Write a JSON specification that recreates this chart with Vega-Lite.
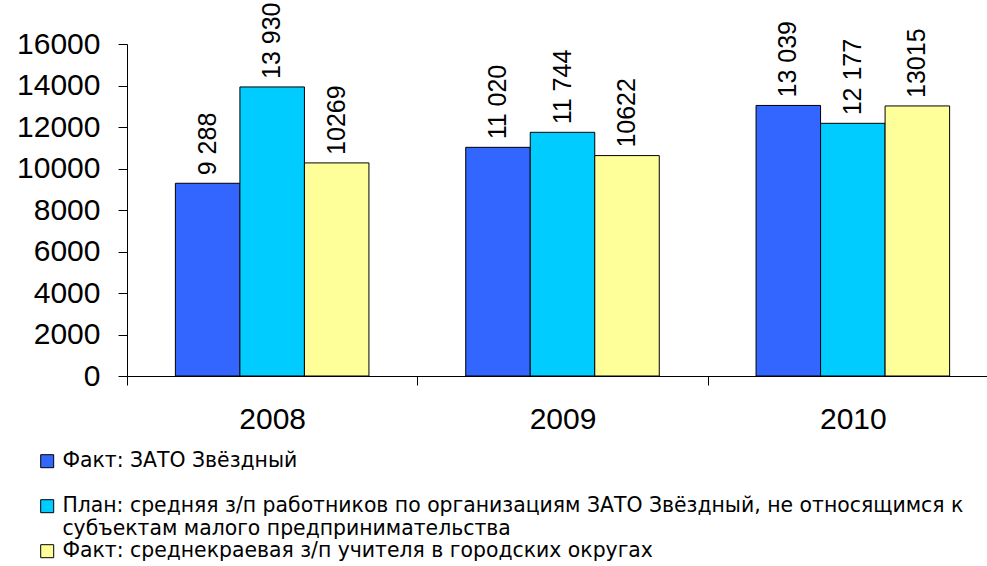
{
  "$schema": "https://vega.github.io/schema/vega-lite/v6.json",
  "width": 860,
  "height": 332,
  "autosize": {"type": "none"},
  "padding": {"left": 127, "top": 44, "right": 0, "bottom": 190},
  "background": "white",
  "data": {
    "values": [
      {"year": "2008", "series": "Факт: ЗАТО Звёздный", "value": 9288, "label": "9 288"},
      {"year": "2008", "series": "План: средняя з/п работников по организациям ЗАТО Звёздный, не относящимся к субъектам малого предпринимательства", "value": 13930, "label": "13 930"},
      {"year": "2008", "series": "Факт: среднекраевая з/п учителя в городских округах", "value": 10269, "label": "10269"},
      {"year": "2009", "series": "Факт: ЗАТО Звёздный", "value": 11020, "label": "11 020"},
      {"year": "2009", "series": "План: средняя з/п работников по организациям ЗАТО Звёздный, не относящимся к субъектам малого предпринимательства", "value": 11744, "label": "11 744"},
      {"year": "2009", "series": "Факт: среднекраевая з/п учителя в городских округах", "value": 10622, "label": "10622"},
      {"year": "2010", "series": "Факт: ЗАТО Звёздный", "value": 13039, "label": "13 039"},
      {"year": "2010", "series": "План: средняя з/п работников по организациям ЗАТО Звёздный, не относящимся к субъектам малого предпринимательства", "value": 12177, "label": "12 177"},
      {"year": "2010", "series": "Факт: среднекраевая з/п учителя в городских округах", "value": 13015, "label": "13015"}
    ]
  },
  "encoding": {
    "x": {
      "field": "year",
      "type": "nominal",
      "scale": {"range": [0, 871], "paddingInner": 0, "paddingOuter": 0},
      "axis": {
        "title": null,
        "labelAngle": 0,
        "labelFont": "Liberation Sans",
        "labelFontSize": 30,
        "labelColor": "#000",
        "labelPadding": 19,
        "tickBand": "extent",
        "tickSize": 9,
        "tickColor": "#000",
        "domainColor": "#000",
        "grid": false
      }
    },
    "xOffset": {
      "field": "series",
      "type": "nominal",
      "scale": {
        "domain": [
          "Факт: ЗАТО Звёздный",
          "План: средняя з/п работников по организациям ЗАТО Звёздный, не относящимся к субъектам малого предпринимательства",
          "Факт: среднекраевая з/п учителя в городских округах"
        ],
        "paddingInner": 0,
        "paddingOuter": 0.75
      }
    },
    "y": {
      "field": "value",
      "type": "quantitative",
      "scale": {"domain": [0, 16000], "nice": false},
      "axis": {
        "title": null,
        "values": [0, 2000, 4000, 6000, 8000, 10000, 12000, 14000, 16000],
        "format": "d",
        "labelFont": "Liberation Sans",
        "labelFontSize": 30,
        "labelColor": "#000",
        "labelPadding": 18,
        "tickSize": 9,
        "tickColor": "#000",
        "domainColor": "#000",
        "grid": false
      }
    }
  },
  "layer": [
    {
      "mark": {"type": "bar", "stroke": "#000", "strokeWidth": 1},
      "encoding": {
        "color": {
          "field": "series",
          "type": "nominal",
          "scale": {
            "domain": [
              "Факт: ЗАТО Звёздный",
              "План: средняя з/п работников по организациям ЗАТО Звёздный, не относящимся к субъектам малого предпринимательства",
              "Факт: среднекраевая з/п учителя в городских округах"
            ],
            "range": ["#3366FF", "#00CCFF", "#FFFF99"]
          },
          "legend": {
            "orient": "none",
            "legendX": -90,
            "legendY": 407,
            "direction": "vertical",
            "title": null,
            "symbolType": "square",
            "symbolSize": 169,
            "symbolStrokeColor": "#000",
            "symbolStrokeWidth": 1,
            "symbolOpacity": 1,
            "labelFont": "DejaVu Sans",
            "labelFontSize": 20.4,
            "labelColor": "#000",
            "labelLimit": 0,
            "labelOffset": 5,
            "rowPadding": 2,
            "labelExpr": "indexof(datum.label, 'План') == 0 ? ['План: средняя з/п работников по организациям ЗАТО Звёздный, не относящимся к', 'субъектам малого предпринимательства'] : (datum.label == 'Факт: ЗАТО Звёздный' ? ['Факт: ЗАТО Звёздный', ''] : datum.label)"
          }
        }
      }
    },
    {
      "mark": {
        "type": "text",
        "angle": 270,
        "align": "left",
        "baseline": "middle",
        "dx": 8,
        "font": "Liberation Sans",
        "fontSize": 25,
        "color": "#000"
      },
      "encoding": {"text": {"field": "label"}}
    }
  ],
  "config": {"view": {"stroke": null}}
}
